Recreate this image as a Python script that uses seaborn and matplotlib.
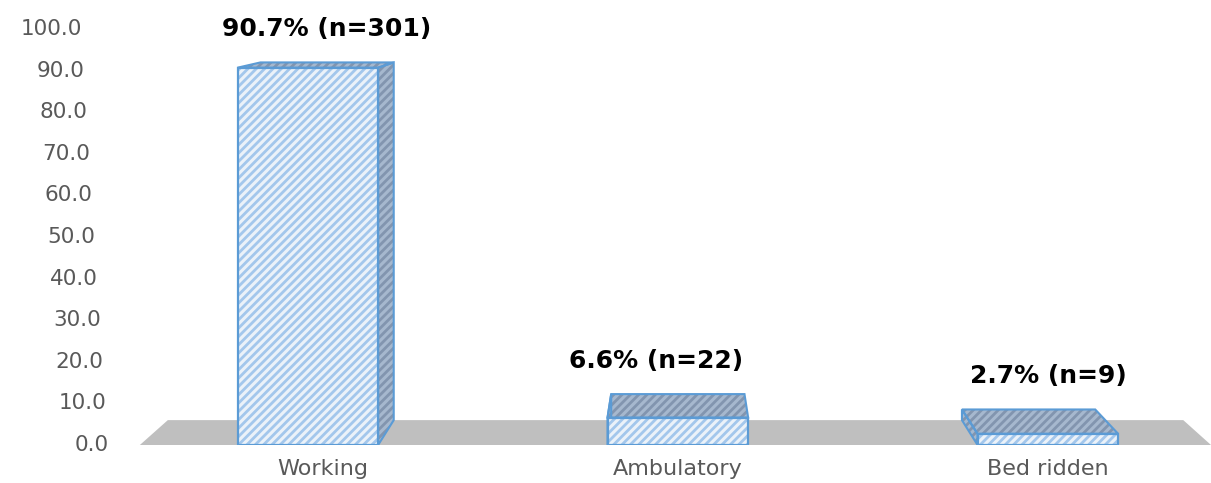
import numpy as np
import pandas as pd
import seaborn as sns
import matplotlib.pyplot as plt
from matplotlib.patches import Polygon
from matplotlib.transforms import IdentityTransform, ScaledTranslation, blended_transform_factory

# data
categories = ["Working", "Ambulatory", "Bed ridden"]
percent = [90.7, 6.6, 2.7]
counts = [301, 22, 9]
yticks = [0, 10, 20, 30, 40, 50, 60, 70, 80, 90, 100]

df = pd.DataFrame({"status": categories, "pct": percent})

sns.set_style("white")
plt.rcParams['font.family'] = ['DejaVu Sans']
plt.rcParams['hatch.linewidth'] = 2.0

fig = plt.figure(figsize=(12.11, 4.83), dpi=100)
ax = fig.add_axes([0, 38 / 483, 1, 416 / 483])

sns.barplot(data=df, x="status", y="pct", order=categories,
            color="#E9F2FB", width=0.38, ax=ax, zorder=3)
ax.set_xlim(-0.832, 2.441)
ax.set_ylim(0, 100)

for s in ax.spines.values():
    s.set_visible(False)
ax.set_yticks([])
ax.set_xlabel("")
ax.set_ylabel("")
ax.tick_params(axis="x", length=0, pad=10, labelsize=16, labelcolor="#595959")
# the first category label sits a bit right of its bar
first = ax.get_xticklabels()[0]
first.set_transform(first.get_transform() + ScaledTranslation(0.15, 0, fig.dpi_scale_trans))

# fake 3D: back faces shrink toward a vanishing point
T = ax.transData
vp = T.transform((1.0, 115))
t = 0.052
ident = IdentityTransform()


def back(p):
    return p + t * (vp - p)


# grey floor
fl = T.transform((-0.454, 0))
fr = T.transform((2.441, 0))
ax.add_patch(Polygon([fl, fr, back(fr), back(fl)], closed=True,
                     facecolor="#BFBFBF", edgecolor="none",
                     transform=ident, zorder=1))

label_dx = [0, -22, 20]
for bar, pct, n, dx in zip(ax.patches[:len(categories)], percent, counts, label_dx):
    x0 = bar.get_x()
    x1 = x0 + bar.get_width()
    h = bar.get_height()
    bl, br = T.transform((x0, 0)), T.transform((x1, 0))
    tl, tr = T.transform((x0, h)), T.transform((x1, h))

    faces = [[tl, tr, back(tr), back(tl)]]
    if (bl[0] + br[0]) / 2 < vp[0]:
        faces.append([br, tr, back(tr), back(br)])
    else:
        faces.append([bl, tl, back(tl), back(bl)])
    for f in faces:
        ax.add_patch(Polygon(f, closed=True, facecolor="#A6B8CE",
                             edgecolor="#8295AF", hatch="////", lw=0,
                             transform=ident, zorder=2))
        ax.add_patch(Polygon(f, closed=True, facecolor="none",
                             edgecolor="#5B9BD5", lw=1.5,
                             transform=ident, zorder=2.5))

    bar.set_hatch("////")
    bar.set_edgecolor("#A3C7EC")
    bar.set_linewidth(0)
    ax.add_patch(Polygon([bl, br, tr, tl], closed=True, facecolor="none",
                         edgecolor="#5B9BD5", lw=1.6,
                         transform=ident, zorder=4))

    top = (back(tl) + back(tr)) / 2
    ax.text(top[0] + dx, top[1] + 33, f"{pct}% (n={n})", transform=ident,
            ha="center", va="center", fontsize=18, fontweight="bold",
            color="black", zorder=5)

# slanted value axis labels
lab_tr = blended_transform_factory(ident, T)
for v in yticks:
    ax.text(109 - 0.27 * v, v, f"{v:.1f}", transform=lab_tr,
            ha="right", va="center", fontsize=15.5, color="#595959")

fig.savefig("out.png", dpi=100)
